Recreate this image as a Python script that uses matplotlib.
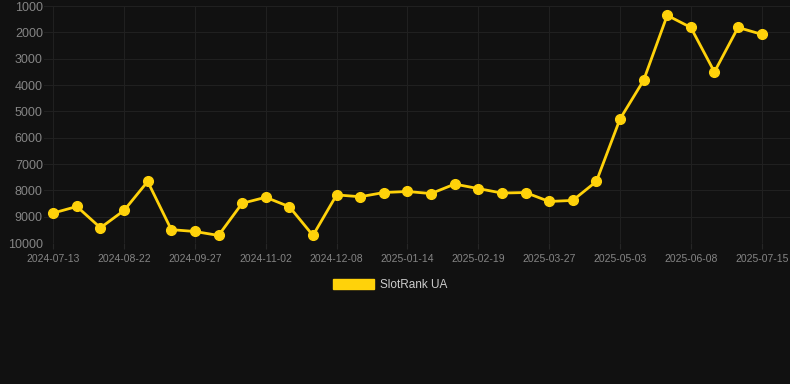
import numpy as np
import matplotlib.pyplot as plt

# rank values (lower is better, axis inverted)
ranks = [8860, 8610, 9420, 8760, 7660, 9490, 9560, 9710, 8490, 8260,
         8620, 9710, 8170, 8240, 8080, 8040, 8120, 7760, 7930, 8100,
         8080, 8420, 8380, 7660, 5290, 3820, 1350, 1810, 3500, 1810,
         2070]
tick_labels = ['2024-07-13', '2024-08-22', '2024-09-27', '2024-11-02',
               '2024-12-08', '2025-01-14', '2025-02-19', '2025-03-27',
               '2025-05-03', '2025-06-08', '2025-07-15']
y_ticks = [1000, 2000, 3000, 4000, 5000, 6000, 7000, 8000, 9000, 10000]

bg = '#111111'
gold = '#FFD20A'

plt.rcParams['font.family'] = ['Liberation Sans', 'DejaVu Sans']

fig = plt.figure(figsize=(7.9, 3.84), dpi=100, facecolor=bg)
ax = fig.add_axes([0.056, 0.367, 0.944, 0.617], facecolor=bg)

x = np.arange(len(ranks))
ax.plot(x, ranks, color=gold, lw=2.0, marker='o', ms=7,
        markerfacecolor=gold, markeredgecolor=gold, label='SlotRank UA',
        zorder=3, clip_on=False)

ax.set_ylim(10000, 1000)
ax.set_xlim(-0.38, 31.2)
ax.set_yticks(y_ticks)
ax.set_xticks(x[::3])
ax.set_xticklabels(tick_labels)

ax.grid(True, color='#202020', lw=0.8)
for s in ax.spines.values():
    s.set_visible(False)
ax.tick_params(axis='y', colors='#858585', labelsize=9, length=0, pad=1)
ax.tick_params(axis='x', colors='#858585', labelsize=7.5, length=4,
               color='#262626', pad=4)

leg = fig.legend(handles=[plt.Rectangle((0, 0), 1, 1, color=gold)],
                 labels=['SlotRank UA'], loc='center',
                 bbox_to_anchor=(0.494, 0.258), frameon=False,
                 fontsize=8.5, handlelength=3.5, handleheight=1.0,
                 handletextpad=0.5)
for t in leg.get_texts():
    t.set_color('#cccccc')

fig.savefig('out.png', dpi=100, facecolor=bg)
